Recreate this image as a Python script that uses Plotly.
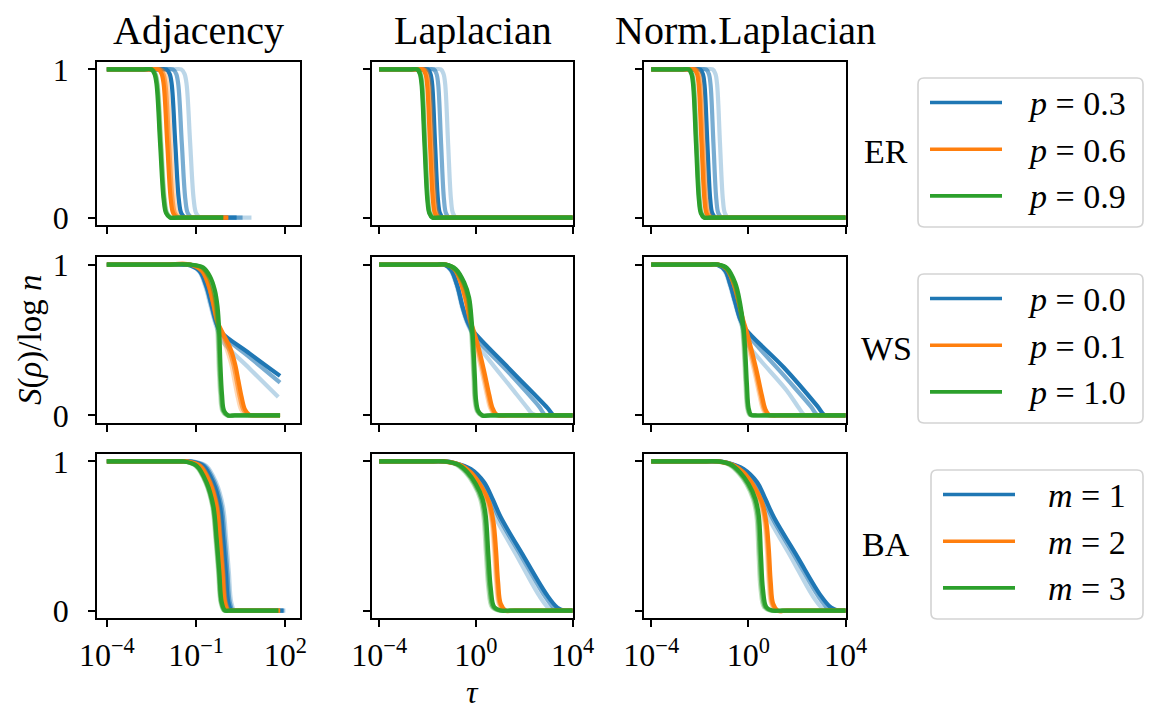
import plotly.graph_objects as go

# ---------------- labels ----------------
COL_TITLES = ["Adjacency", "Laplacian", "Norm.Laplacian"]
ROW_NAMES = ["ER", "WS", "BA"]
LEGEND_LABELS = [
    ["<i>p</i> = 0.3", "<i>p</i> = 0.6", "<i>p</i> = 0.9"],
    ["<i>p</i> = 0.0", "<i>p</i> = 0.1", "<i>p</i> = 1.0"],
    ["<i>m</i> = 1", "<i>m</i> = 2", "<i>m</i> = 3"],
]
X_TICK_EXP = [[-4, -1, 2], [-4, 0, 4], [-4, 0, 4]]
Y_TICKS = [0, 1]
SERIES_COLORS = ["#1f77b4", "#ff7f0e", "#2ca02c"]
LEVEL_ALPHAS = [0.3, 0.6, 1.0]   # light, mid, dark curve of each series

# ---------------- data: x = log10(tau), y = S(rho)/log n ----------------
# ---- ER (all curves share the same y samples) ----
ER_Y = [1, 1, 1, 1, 0.97, 0.9, 0.5, 0.12, 0.03, 0, 0, 0]

ER_ADJ_P03 = [
    [-4, -2.9, -1.80, -1.50, -1.39, -1.32, -1.20, -1.08, -1.00, -0.87, -0.60, 0.86],
    [-4, -2.9, -2.08, -1.78, -1.67, -1.60, -1.48, -1.36, -1.28, -1.15, -0.88, 0.56],
    [-4, -3.0, -2.30, -2.00, -1.89, -1.82, -1.70, -1.58, -1.50, -1.37, -1.10, 0.36],
]
ER_ADJ_P06 = [
    [-4, -3.1, -2.45, -2.15, -2.04, -1.97, -1.85, -1.73, -1.65, -1.52, -1.25, 0.06],
    [-4, -3.1, -2.51, -2.21, -2.10, -2.03, -1.91, -1.79, -1.71, -1.58, -1.31, 0.08],
    [-4, -3.2, -2.57, -2.27, -2.16, -2.09, -1.97, -1.85, -1.77, -1.64, -1.37, 0.08],
]
ER_ADJ_P09 = [
    [-4, -3.4, -2.77, -2.47, -2.36, -2.29, -2.17, -2.05, -1.97, -1.84, -1.57, -0.09],
    [-4, -3.4, -2.79, -2.49, -2.38, -2.31, -2.19, -2.07, -1.99, -1.86, -1.59, -0.09],
    [-4, -3.4, -2.81, -2.51, -2.40, -2.33, -2.21, -2.09, -2.01, -1.88, -1.61, -0.09],
]
ER_LAP_P03 = [
    [-4, -2.9, -1.75, -1.45, -1.34, -1.27, -1.15, -1.03, -0.95, -0.82, -0.55, 4],
    [-4, -2.9, -2.04, -1.74, -1.63, -1.56, -1.44, -1.32, -1.24, -1.11, -0.84, 4],
    [-4, -3.0, -2.29, -1.99, -1.88, -1.81, -1.69, -1.57, -1.49, -1.36, -1.09, 4],
]
ER_LAP_P06 = [
    [-4, -3.1, -2.40, -2.10, -1.99, -1.92, -1.80, -1.68, -1.60, -1.47, -1.20, 4],
    [-4, -3.1, -2.45, -2.15, -2.04, -1.97, -1.85, -1.73, -1.65, -1.52, -1.25, 4],
    [-4, -3.2, -2.50, -2.20, -2.09, -2.02, -1.90, -1.78, -1.70, -1.57, -1.30, 4],
]
ER_LAP_P09 = [
    [-4, -3.4, -2.69, -2.39, -2.28, -2.21, -2.09, -1.97, -1.89, -1.76, -1.49, 4],
    [-4, -3.4, -2.71, -2.41, -2.30, -2.23, -2.11, -1.99, -1.91, -1.78, -1.51, 4],
    [-4, -3.4, -2.73, -2.43, -2.32, -2.25, -2.13, -2.01, -1.93, -1.80, -1.53, 4],
]
ER_NL_P03 = [
    [-4, -2.9, -1.77, -1.47, -1.36, -1.29, -1.17, -1.05, -0.97, -0.84, -0.57, 4],
    [-4, -2.9, -2.04, -1.74, -1.63, -1.56, -1.44, -1.32, -1.24, -1.11, -0.84, 4],
    [-4, -3.0, -2.29, -1.99, -1.88, -1.81, -1.69, -1.57, -1.49, -1.36, -1.09, 4],
]
ER_NL_P06 = [
    [-4, -3.1, -2.43, -2.13, -2.02, -1.95, -1.83, -1.71, -1.63, -1.50, -1.23, 4],
    [-4, -3.1, -2.48, -2.18, -2.07, -2.00, -1.88, -1.76, -1.68, -1.55, -1.28, 4],
    [-4, -3.2, -2.53, -2.23, -2.12, -2.05, -1.93, -1.81, -1.73, -1.60, -1.33, 4],
]
ER_NL_P09 = [
    [-4, -3.4, -2.72, -2.42, -2.31, -2.24, -2.12, -2.00, -1.92, -1.79, -1.52, 4],
    [-4, -3.4, -2.74, -2.44, -2.33, -2.26, -2.14, -2.02, -1.94, -1.81, -1.54, 4],
    [-4, -3.4, -2.76, -2.46, -2.35, -2.28, -2.16, -2.04, -1.96, -1.83, -1.56, 4],
]

# ---- WS, Adjacency ----
WS_ADJ_P00_X = [
    [-4, -3.0, -2.0, -1.4, -1.22, -0.90, -0.69, -0.52, -0.37, -0.25, -0.09, 0.8, 1.76],
    [-4, -3.0, -2.0, -1.4, -1.2, -0.88, -0.66, -0.49, -0.34, -0.14, 0.8, 1.82],
    [-4, -3.0, -2.0, -1.4, -1.2, -0.87, -0.65, -0.48, -0.33, -0.20, 0.8, 1.82],
]
WS_ADJ_P00_Y = [
    [1, 1, 1, 1, 0.995, 0.955, 0.855, 0.73, 0.62, 0.55, 0.485, 0.31, 0.122],
    [1, 1, 1, 1, 0.995, 0.955, 0.855, 0.73, 0.62, 0.54, 0.385, 0.217],
    [1, 1, 1, 1, 0.995, 0.955, 0.855, 0.73, 0.62, 0.56, 0.41, 0.262],
]
WS_ADJ_P01_X = [
    [-4, -3.0, -2.0, -1.2, -0.82, -0.60, -0.43, -0.30, -0.16, 0.01, 0.18, 0.29, 0.40, 0.51, 0.66, 0.82, 1.1, 1.82],
    [-4, -3.0, -2.0, -1.2, -0.81, -0.59, -0.42, -0.28, -0.12, 0.08, 0.25, 0.36, 0.47, 0.58, 0.73, 0.89, 1.2, 1.82],
    [-4, -3.0, -2.0, -1.2, -0.81, -0.59, -0.42, -0.28, -0.09, 0.14, 0.31, 0.42, 0.53, 0.64, 0.79, 0.95, 1.3, 1.82],
]
WS_ADJ_P01_Y = [1, 1, 1, 1, 0.96, 0.87, 0.74, 0.62, 0.54, 0.45, 0.34, 0.23, 0.12, 0.04, 0.004, 0, 0, 0]
WS_ADJ_P10_X = [
    [-4, -3.0, -2.0, -1.26, -0.82, -0.59, -0.43, -0.34, -0.28, -0.24, -0.19, -0.12, 0.02, 0.3, 1.0, 1.82],
    [-4, -3.0, -2.0, -1.23, -0.79, -0.56, -0.40, -0.31, -0.25, -0.21, -0.16, -0.09, 0.05, 0.3, 1.0, 1.82],
    [-4, -3.0, -2.0, -1.2, -0.76, -0.53, -0.37, -0.28, -0.22, -0.18, -0.13, -0.06, 0.08, 0.3, 1.0, 1.82],
]
WS_ADJ_P10_Y = [1, 1, 1, 1, 0.98, 0.92, 0.83, 0.72, 0.54, 0.32, 0.14, 0.03, 0, 0, 0, 0]

# ---- WS, Laplacian ----
WS_LAP_P00_X = [
    [-4, -3.0, -2.2, -1.6, -1.33, -1.06, -0.79, -0.58, -0.38, -0.15, 0.0, 1.58, 2.13, 2.34, 2.54, 2.9, 4],
    [-4, -3.0, -2.2, -1.6, -1.31, -1.03, -0.76, -0.55, -0.35, -0.07, 1.44, 2.61, 2.89, 3.2, 4],
    [-4, -3.0, -2.2, -1.6, -1.31, -1.03, -0.76, -0.55, -0.34, -0.14, 1.44, 2.96, 3.23, 3.5, 4],
]
WS_LAP_P00_Y = [
    [1, 1, 1, 1, 1, 0.966, 0.855, 0.72, 0.62, 0.54, 0.486, 0.161, 0.05, 0.011, 0, 0, 0],
    [1, 1, 1, 1, 1, 0.966, 0.855, 0.72, 0.62, 0.53, 0.27, 0.06, 0, 0, 0],
    [1, 1, 1, 1, 1, 0.966, 0.855, 0.72, 0.62, 0.564, 0.30, 0.05, 0, 0, 0],
]
WS_LAP_P01_X = [
    [-4, -3.0, -2.2, -1.6, -1.25, -0.90, -0.63, -0.42, -0.26, -0.13, 0.04, 0.24, 0.45, 0.59, 0.73, 0.86, 1.3, 2.5, 4],
    [-4, -3.0, -2.2, -1.6, -1.24, -0.89, -0.62, -0.41, -0.24, -0.10, 0.09, 0.29, 0.50, 0.64, 0.78, 0.91, 1.3, 2.5, 4],
    [-4, -3.0, -2.2, -1.6, -1.24, -0.89, -0.62, -0.41, -0.23, -0.07, 0.14, 0.34, 0.55, 0.69, 0.83, 0.96, 1.3, 2.5, 4],
]
WS_LAP_P01_Y = [1, 1, 1, 1, 1, 0.97, 0.88, 0.76, 0.63, 0.55, 0.43, 0.295, 0.139, 0.049, 0.01, 0, 0, 0, 0]
WS_LAP_P10_X = [
    [-4, -3.0, -2.2, -1.6, -1.30, -0.89, -0.54, -0.34, -0.23, -0.16, -0.10, -0.05, 0.04, 0.22, 0.6, 2.0, 4],
    [-4, -3.0, -2.2, -1.6, -1.27, -0.86, -0.51, -0.31, -0.20, -0.13, -0.07, -0.02, 0.07, 0.25, 0.6, 2.0, 4],
    [-4, -3.0, -2.2, -1.6, -1.24, -0.83, -0.48, -0.28, -0.17, -0.10, -0.04, 0.01, 0.10, 0.28, 0.6, 2.0, 4],
]
WS_LAP_P10_Y = [1, 1, 1, 1, 1, 0.97, 0.88, 0.78, 0.62, 0.45, 0.25, 0.10, 0.03, 0, 0, 0, 0]

# ---- WS, Norm. Laplacian ----
WS_NL_P00_X = [
    [-4, -3.0, -2.2, -1.6, -1.32, -0.99, -0.78, -0.57, -0.37, -0.20, -0.13, 1.60, 2.08, 2.29, 2.43, 2.8, 4],
    [-4, -3.0, -2.2, -1.6, -1.30, -0.96, -0.75, -0.54, -0.34, -0.06, 1.46, 2.57, 2.85, 3.1, 4],
    [-4, -3.0, -2.2, -1.6, -1.30, -0.96, -0.75, -0.54, -0.34, -0.13, 1.46, 2.85, 3.12, 3.33, 3.6, 4],
]
WS_NL_P00_Y = [
    [1, 1, 1, 1, 1, 0.96, 0.87, 0.75, 0.64, 0.56, 0.497, 0.161, 0.049, 0.004, 0, 0, 0],
    [1, 1, 1, 1, 1, 0.96, 0.87, 0.75, 0.64, 0.545, 0.265, 0.06, 0, 0, 0],
    [1, 1, 1, 1, 1, 0.96, 0.87, 0.75, 0.64, 0.575, 0.318, 0.06, 0.005, 0, 0, 0],
]
WS_NL_P01_X = [
    [-4, -3.0, -2.2, -1.6, -1.25, -0.90, -0.63, -0.42, -0.26, -0.14, 0.05, 0.26, 0.46, 0.60, 0.74, 0.88, 1.3, 2.5, 4],
    [-4, -3.0, -2.2, -1.6, -1.24, -0.89, -0.62, -0.41, -0.24, -0.10, 0.10, 0.31, 0.51, 0.65, 0.79, 0.93, 1.3, 2.5, 4],
    [-4, -3.0, -2.2, -1.6, -1.24, -0.89, -0.62, -0.41, -0.23, -0.06, 0.15, 0.36, 0.56, 0.70, 0.84, 0.98, 1.3, 2.5, 4],
]
WS_NL_P01_Y = [1, 1, 1, 1, 1, 0.97, 0.88, 0.76, 0.64, 0.55, 0.42, 0.28, 0.13, 0.04, 0.005, 0, 0, 0, 0]
WS_NL_P10_X = [
    [-4, -3.0, -2.2, -1.6, -1.30, -0.95, -0.60, -0.40, -0.26, -0.19, -0.12, -0.05, 0.05, 0.23, 0.6, 2.0, 4],
    [-4, -3.0, -2.2, -1.6, -1.27, -0.92, -0.57, -0.37, -0.23, -0.16, -0.09, -0.02, 0.08, 0.26, 0.6, 2.0, 4],
    [-4, -3.0, -2.2, -1.6, -1.24, -0.89, -0.54, -0.34, -0.20, -0.13, -0.06, 0.01, 0.11, 0.29, 0.6, 2.0, 4],
]
WS_NL_P10_Y = [1, 1, 1, 1, 1, 0.978, 0.877, 0.743, 0.586, 0.43, 0.206, 0.049, 0.004, 0, 0, 0, 0]

# ---- BA, Adjacency ----
BA_ADJ_Y = [1, 1, 1, 1, 1, 0.971, 0.86, 0.70, 0.48, 0.257, 0.056, 0, 0, 0, 0]
BA_ADJ_M1 = [
    [-4, -3.0, -2.0, -1.4, -1.08, -0.66, -0.33, -0.10, 0.01, 0.10, 0.18, 0.29, 0.46, 0.7, 2.0],
    [-4, -3.0, -2.0, -1.4, -1.13, -0.71, -0.38, -0.15, -0.04, 0.05, 0.13, 0.24, 0.41, 0.65, 1.96],
    [-4, -3.0, -2.0, -1.4, -1.18, -0.76, -0.43, -0.20, -0.09, 0.0, 0.08, 0.19, 0.36, 0.6, 1.93],
]
BA_ADJ_M2 = [
    [-4, -3.0, -2.0, -1.5, -1.26, -0.84, -0.51, -0.28, -0.17, -0.08, 0.0, 0.11, 0.28, 0.55, 1.84],
    [-4, -3.0, -2.0, -1.5, -1.28, -0.86, -0.53, -0.30, -0.19, -0.10, -0.02, 0.09, 0.26, 0.5, 1.82],
    [-4, -3.0, -2.0, -1.5, -1.3, -0.88, -0.55, -0.32, -0.21, -0.12, -0.04, 0.07, 0.24, 0.5, 1.82],
]
BA_ADJ_M3 = [
    [-4, -3.0, -2.2, -1.6, -1.4, -1.02, -0.69, -0.46, -0.35, -0.26, -0.18, -0.07, 0.10, 0.4, 1.76],
    [-4, -3.0, -2.2, -1.6, -1.4, -1.0, -0.67, -0.44, -0.33, -0.24, -0.16, -0.05, 0.12, 0.4, 1.76],
    [-4, -3.0, -2.2, -1.6, -1.4, -0.98, -0.65, -0.42, -0.31, -0.22, -0.14, -0.03, 0.14, 0.4, 1.76],
]

# ---- BA, Laplacian ----
BA_M1_Y = [1, 1, 1, 1, 0.99, 0.949, 0.86, 0.748, 0.626, 0.36, 0.10, 0.02, 0, 0, 0]
BA_M2_Y = [1, 1, 1, 1, 0.975, 0.927, 0.837, 0.726, 0.592, 0.413, 0.19, 0.045, 0, 0, 0]
BA_M3_Y = [1, 1, 1, 1, 0.982, 0.927, 0.849, 0.748, 0.636, 0.368, 0.145, 0.023, 0, 0, 0]
BA_LAP_M1 = [
    [-4, -3.0, -1.9, -1.36, -0.96, -0.31, 0.20, 0.50, 0.80, 1.72, 2.62, 2.99, 3.22, 3.6, 4],
    [-4, -3.0, -1.9, -1.33, -0.92, -0.25, 0.29, 0.62, 0.95, 1.90, 2.84, 3.22, 3.46, 3.8, 4],
    [-4, -3.0, -1.9, -1.31, -0.89, -0.21, 0.34, 0.69, 1.03, 1.99, 2.96, 3.37, 3.64, 3.9, 4],
]
BA_LAP_M2 = [
    [-4, -3.0, -2.0, -1.39, -0.70, -0.29, 0.13, 0.47, 0.65, 0.75, 0.84, 0.95, 1.16, 1.6, 4],
    [-4, -3.0, -2.0, -1.35, -0.66, -0.25, 0.17, 0.51, 0.69, 0.79, 0.88, 0.99, 1.20, 1.6, 4],
    [-4, -3.0, -2.0, -1.31, -0.62, -0.21, 0.21, 0.55, 0.73, 0.83, 0.92, 1.03, 1.24, 1.6, 4],
]
BA_LAP_M3 = [
    [-4, -3.0, -2.0, -1.41, -0.86, -0.44, -0.10, 0.18, 0.31, 0.42, 0.52, 0.66, 0.93, 1.4, 4],
    [-4, -3.0, -2.0, -1.36, -0.81, -0.39, -0.05, 0.23, 0.36, 0.47, 0.57, 0.71, 0.98, 1.4, 4],
    [-4, -3.0, -2.0, -1.31, -0.76, -0.34, 0.0, 0.28, 0.41, 0.52, 0.62, 0.76, 1.03, 1.4, 4],
]

# ---- BA, Norm. Laplacian ----
BA_NL_M1 = [
    [-4, -3.0, -1.9, -1.29, -0.89, -0.30, 0.22, 0.51, 0.82, 1.75, 2.64, 3.02, 3.26, 3.6, 4],
    [-4, -3.0, -1.9, -1.26, -0.85, -0.24, 0.31, 0.63, 0.97, 1.93, 2.86, 3.25, 3.50, 3.8, 4],
    [-4, -3.0, -1.9, -1.24, -0.82, -0.20, 0.36, 0.70, 1.05, 2.02, 2.98, 3.40, 3.68, 3.9, 4],
]
BA_NL_M2 = [
    [-4, -3.0, -2.0, -1.32, -0.69, -0.28, 0.14, 0.48, 0.66, 0.76, 0.84, 0.94, 1.13, 1.6, 4],
    [-4, -3.0, -2.0, -1.28, -0.65, -0.24, 0.18, 0.52, 0.70, 0.80, 0.88, 0.98, 1.17, 1.6, 4],
    [-4, -3.0, -2.0, -1.24, -0.61, -0.20, 0.22, 0.56, 0.74, 0.84, 0.92, 1.02, 1.21, 1.6, 4],
]
BA_NL_M3 = [
    [-4, -3.0, -2.0, -1.34, -0.85, -0.44, -0.09, 0.19, 0.33, 0.42, 0.50, 0.64, 0.88, 1.4, 4],
    [-4, -3.0, -2.0, -1.29, -0.80, -0.39, -0.04, 0.24, 0.38, 0.47, 0.55, 0.69, 0.93, 1.4, 4],
    [-4, -3.0, -2.0, -1.24, -0.75, -0.34, 0.01, 0.29, 0.43, 0.52, 0.60, 0.74, 0.98, 1.4, 4],
]


# panel -> list of series (blue, orange, green) -> (x-levels, y-levels)
def same(y):
    return [y, y, y]


PANELS = [
    [
        [(ER_ADJ_P03, same(ER_Y)), (ER_ADJ_P06, same(ER_Y)), (ER_ADJ_P09, same(ER_Y))],
        [(ER_LAP_P03, same(ER_Y)), (ER_LAP_P06, same(ER_Y)), (ER_LAP_P09, same(ER_Y))],
        [(ER_NL_P03, same(ER_Y)), (ER_NL_P06, same(ER_Y)), (ER_NL_P09, same(ER_Y))],
    ],
    [
        [(WS_ADJ_P00_X, WS_ADJ_P00_Y), (WS_ADJ_P01_X, same(WS_ADJ_P01_Y)), (WS_ADJ_P10_X, same(WS_ADJ_P10_Y))],
        [(WS_LAP_P00_X, WS_LAP_P00_Y), (WS_LAP_P01_X, same(WS_LAP_P01_Y)), (WS_LAP_P10_X, same(WS_LAP_P10_Y))],
        [(WS_NL_P00_X, WS_NL_P00_Y), (WS_NL_P01_X, same(WS_NL_P01_Y)), (WS_NL_P10_X, same(WS_NL_P10_Y))],
    ],
    [
        [(BA_ADJ_M1, same(BA_ADJ_Y)), (BA_ADJ_M2, same(BA_ADJ_Y)), (BA_ADJ_M3, same(BA_ADJ_Y))],
        [(BA_LAP_M1, same(BA_M1_Y)), (BA_LAP_M2, same(BA_M2_Y)), (BA_LAP_M3, same(BA_M3_Y))],
        [(BA_NL_M1, same(BA_M1_Y)), (BA_NL_M2, same(BA_M2_Y)), (BA_NL_M3, same(BA_M3_Y))],
    ],
]

# ---------------- layout geometry (pixels) ----------------
W, H = 1150, 711
COL_PX = [(97, 300), (372, 573), (644, 846)]
ROW_PX = [(62, 225), (257, 423), (454, 618)]
X_RANGES = [(-4.33, 2.49), (-4.3, 4.02), (-4.3, 4.02)]
FONT = "Liberation Serif"
LINE_W = 4.2


def fx(p):
    return p / W


def fy(p):
    return 1 - p / H


def rgba(hexc, a):
    h = hexc.lstrip("#")
    r, g, b = int(h[0:2], 16), int(h[2:4], 16), int(h[4:6], 16)
    return f"rgba({r},{g},{b},{a})"


def sup(e):
    s = str(e).replace("-", "\u2212")
    return f"10<sup>{s}</sup>"


fig = go.Figure()
layout = {}

for r in range(3):
    for c in range(3):
        idx = r * 3 + c + 1
        xa = "x" if idx == 1 else f"x{idx}"
        ya = "y" if idx == 1 else f"y{idx}"
        for s, (xlev, ylev) in enumerate(PANELS[r][c]):
            for k in range(3):
                fig.add_trace(go.Scatter(
                    x=[10 ** u for u in xlev[k]], y=ylev[k], mode="lines",
                    line=dict(color=rgba(SERIES_COLORS[s], LEVEL_ALPHAS[k]), width=LINE_W,
                              shape="spline", smoothing=1.0),
                    showlegend=False, hoverinfo="skip", xaxis=xa, yaxis=ya,
                ))
        axis_common = dict(showline=True, mirror=True, linecolor="black", linewidth=1.8,
                           ticks="outside", ticklen=7, tickwidth=1.8, tickcolor="black",
                           showgrid=False, zeroline=False, automargin=False,
                           tickfont=dict(family=FONT, size=32, color="black"))
        xkey = "xaxis" if idx == 1 else f"xaxis{idx}"
        ykey = "yaxis" if idx == 1 else f"yaxis{idx}"
        layout[xkey] = dict(
            axis_common, type="log", range=list(X_RANGES[c]),
            domain=[fx(COL_PX[c][0]), fx(COL_PX[c][1])], anchor=ya,
            tickmode="array", tickvals=[10 ** e for e in X_TICK_EXP[c]],
            ticktext=[sup(e) for e in X_TICK_EXP[c]],
            showticklabels=(r == 2), ticklabelstandoff=1,
        )
        layout[ykey] = dict(
            axis_common, range=[-0.05, 1.05],
            domain=[fy(ROW_PX[r][1]), fy(ROW_PX[r][0])], anchor=xa,
            tickmode="array", tickvals=Y_TICKS, ticktext=[str(t) for t in Y_TICKS],
            showticklabels=(c == 0), ticklabelstandoff=13,
        )

annotations = []
shapes = []

# column titles
for c, t in enumerate(COL_TITLES):
    annotations.append(dict(text=t, x=fx((COL_PX[c][0] + COL_PX[c][1]) / 2), y=fy(31),
                            xref="paper", yref="paper", showarrow=False,
                            xanchor="center", yanchor="middle",
                            font=dict(family=FONT, size=40, color="black")))

# axis labels
annotations.append(dict(text="<i>S</i>(<i>\u03c1</i>)/log <i>n</i>", x=fx(30), y=fy(340),
                        xref="paper", yref="paper", showarrow=False, textangle=-90,
                        xanchor="center", yanchor="middle",
                        font=dict(family=FONT, size=33, color="black")))
annotations.append(dict(text="<i>\u03c4</i>", x=fx(472), y=fy(692),
                        xref="paper", yref="paper", showarrow=False,
                        xanchor="center", yanchor="middle",
                        font=dict(family=FONT, size=32, color="black")))

# legends (one per row)
LEG_BOX = [(918, 1143, 78), (918, 1143, 274), (931, 1143, 470)]
for r in range(3):
    x0, x1, top = LEG_BOX[r]
    bot = top + 149
    rad = 6
    rx, ry = rad / W, rad / H
    X0, X1, Y0, Y1 = fx(x0), fx(x1), fy(bot), fy(top)
    path = (f"M {X0+rx},{Y0} L {X1-rx},{Y0} Q {X1},{Y0} {X1},{Y0+ry} "
            f"L {X1},{Y1-ry} Q {X1},{Y1} {X1-rx},{Y1} L {X0+rx},{Y1} "
            f"Q {X0},{Y1} {X0},{Y1-ry} L {X0},{Y0+ry} Q {X0},{Y0} {X0+rx},{Y0} Z")
    shapes.append(dict(type="path", path=path, xref="paper", yref="paper",
                       line=dict(color="#d3d3d3", width=1.6), fillcolor="rgba(255,255,255,0.8)",
                       layer="above"))
    for k in range(3):
        ly = top + 24.5 + 46.7 * k
        shapes.append(dict(type="line", xref="paper", yref="paper",
                           x0=fx(x0 + 12), x1=fx(x0 + 84), y0=fy(ly), y1=fy(ly),
                           line=dict(color=SERIES_COLORS[k], width=3.6), layer="above"))
        annotations.append(dict(text=LEGEND_LABELS[r][k], x=fx(x1 - 15), y=fy(ly + 1),
                                xref="paper", yref="paper", showarrow=False,
                                xanchor="right", yanchor="middle",
                                font=dict(family=FONT, size=34, color="black")))
    annotations.append(dict(text=ROW_NAMES[r], x=fx(886), y=fy(top + 74),
                            xref="paper", yref="paper", showarrow=False,
                            xanchor="center", yanchor="middle",
                            font=dict(family=FONT, size=34, color="black")))

fig.update_layout(
    **layout,
    width=W, height=H, margin=dict(l=0, r=0, t=0, b=0),
    paper_bgcolor="white", plot_bgcolor="white",
    font=dict(family=FONT, color="black"),
    annotations=annotations, shapes=shapes, showlegend=False,
)

# remove the browser's default 8px page margin so the figure fills the window
fig.write_html("out.html", config={"displayModeBar": False},
               post_script="document.body.style.margin='0';")
